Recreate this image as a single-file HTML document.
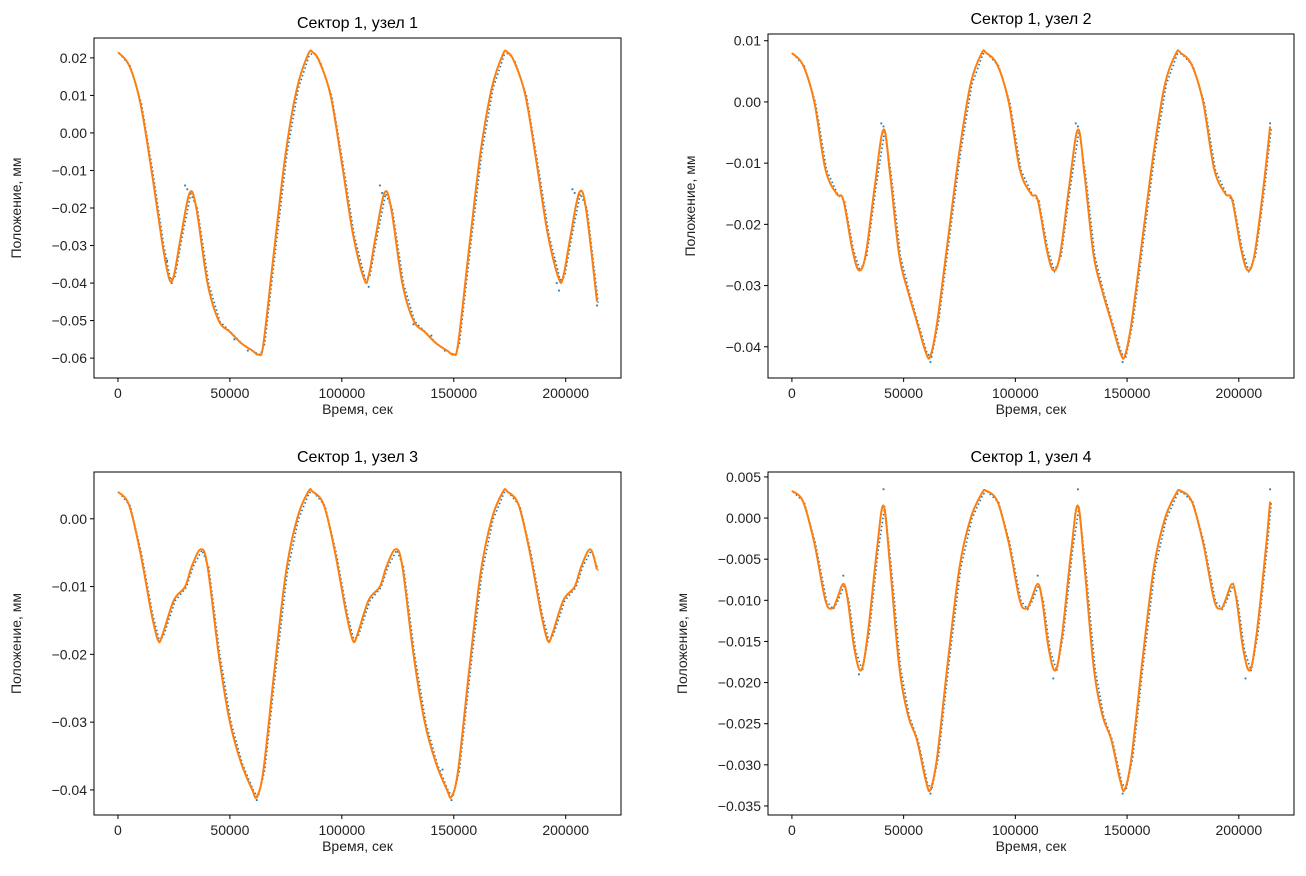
<!DOCTYPE html>
<html><head><meta charset="utf-8">
<style>
html,body{margin:0;padding:0;background:#fff;}
svg{display:block;font-family:"Liberation Sans","DejaVu Sans",sans-serif;}
</style></head>
<body>
<svg id="fig" width="1306" height="876" viewBox="0 0 1306 876" xmlns="http://www.w3.org/2000/svg"></svg>
<script>
// x ticks (shared)
const xTicks = [0, 50000, 100000, 150000, 200000];
const xTickLabels = ["0", "50000", "100000", "150000", "200000"];

// Panel 1
const t1 = [0,5,10,15,20,23,25,28,32,35,40,45,50,55,60,63,65,70,75,80,85,87,90,95,100,105,110,112,115,119,122,127,132,137,142,147,150,152,157,162,167,172,174,177,182,187,192,197,199,202,206,209,214];
const v1 = [0.0215,0.018,0.008,-0.010,-0.030,-0.039,-0.038,-0.028,-0.016,-0.020,-0.040,-0.050,-0.053,-0.056,-0.058,-0.059,-0.056,-0.030,-0.005,0.012,0.021,0.0215,0.019,0.010,-0.008,-0.027,-0.039,-0.038,-0.028,-0.016,-0.020,-0.040,-0.050,-0.053,-0.056,-0.058,-0.059,-0.056,-0.030,-0.005,0.012,0.021,0.0215,0.019,0.010,-0.008,-0.027,-0.039,-0.038,-0.028,-0.016,-0.020,-0.045];
const m1t = [22,23,24,30,31,45,52,58,62,110,111,112,117,118,132,140,146,195,196,197,203,204,214];
const m1v = [-0.034,-0.039,-0.040,-0.014,-0.015,-0.050,-0.055,-0.058,-0.059,-0.038,-0.040,-0.041,-0.014,-0.016,-0.051,-0.054,-0.058,-0.034,-0.040,-0.042,-0.015,-0.016,-0.046];
const y1Ticks = [0.02,0.01,0.00,-0.01,-0.02,-0.03,-0.04,-0.05,-0.06];
const y1Labels = ["0.02","0.01","0.00","−0.01","−0.02","−0.03","−0.04","−0.05","−0.06"];

// Panel 2
const t2 = [0,5,10,15,20,23,27,30,33,37,41,44,48,52,56,60,62,65,70,75,80,85,87,92,97,102,107,110,114,117,120,124,128,131,135,139,143,147,149,152,157,162,167,172,174,179,184,189,194,197,201,204,207,211,214];
const v2 = [0.008,0.006,0.0,-0.011,-0.015,-0.016,-0.024,-0.0275,-0.025,-0.014,-0.0045,-0.012,-0.025,-0.031,-0.036,-0.041,-0.0415,-0.036,-0.022,-0.008,0.003,0.008,0.008,0.006,0.0,-0.011,-0.015,-0.016,-0.024,-0.0275,-0.025,-0.014,-0.0045,-0.012,-0.025,-0.031,-0.036,-0.041,-0.0415,-0.036,-0.022,-0.008,0.003,0.008,0.008,0.006,0.0,-0.011,-0.015,-0.016,-0.024,-0.0275,-0.025,-0.014,-0.004];
const m2t = [40,41,62,127,128,148,214];
const m2v = [-0.0035,-0.004,-0.0425,-0.0035,-0.004,-0.0425,-0.0035];
const y2Ticks = [0.01,0.00,-0.01,-0.02,-0.03,-0.04];
const y2Labels = ["0.01","0.00","−0.01","−0.02","−0.03","−0.04"];

// Panel 3
const t3 = [0,5,10,15,18,20,25,30,33,37,40,45,50,55,60,62,65,70,75,80,85,87,92,97,102,105,107,112,117,120,124,127,132,137,142,147,149,152,157,162,167,172,174,179,184,189,192,194,199,204,207,211,214];
const v3 = [0.004,0.002,-0.005,-0.014,-0.018,-0.017,-0.012,-0.010,-0.007,-0.0045,-0.007,-0.020,-0.030,-0.036,-0.040,-0.041,-0.037,-0.022,-0.008,0.0,0.004,0.004,0.002,-0.005,-0.014,-0.018,-0.017,-0.012,-0.010,-0.007,-0.0045,-0.007,-0.020,-0.030,-0.036,-0.040,-0.041,-0.037,-0.022,-0.008,0.0,0.004,0.004,0.002,-0.005,-0.014,-0.018,-0.017,-0.012,-0.010,-0.007,-0.0045,-0.0075];
const m3t = [62,145,149];
const m3v = [-0.0415,-0.037,-0.0415];
const y3Ticks = [0.00,-0.01,-0.02,-0.03,-0.04];
const y3Labels = ["0.00","−0.01","−0.02","−0.03","−0.04"];

// Panel 4
const t4 = [0,5,10,15,18,20,23,25,28,31,34,38,41,44,48,52,56,60,62,65,70,75,80,85,87,92,97,102,105,107,110,112,115,118,121,125,128,131,135,139,143,147,149,152,157,162,167,172,174,179,184,189,192,194,197,199,202,205,208,212,214];
const v4 = [0.0033,0.002,-0.003,-0.010,-0.011,-0.010,-0.008,-0.010,-0.016,-0.0185,-0.014,-0.004,0.0015,-0.006,-0.018,-0.024,-0.027,-0.032,-0.033,-0.029,-0.017,-0.006,0.0,0.003,0.0033,0.002,-0.003,-0.010,-0.011,-0.010,-0.008,-0.010,-0.016,-0.0185,-0.014,-0.004,0.0015,-0.006,-0.018,-0.024,-0.027,-0.032,-0.033,-0.029,-0.017,-0.006,0.0,0.003,0.0033,0.002,-0.003,-0.010,-0.011,-0.010,-0.008,-0.010,-0.016,-0.0185,-0.014,-0.004,0.002];
const m4t = [23,30,41,62,110,117,128,148,203,214];
const m4v = [-0.007,-0.019,0.0035,-0.0335,-0.007,-0.0195,0.0035,-0.0335,-0.0195,0.0035];
const y4Ticks = [0.005,0.000,-0.005,-0.010,-0.015,-0.020,-0.025,-0.030,-0.035];
const y4Labels = ["0.005","0.000","−0.005","−0.010","−0.015","−0.020","−0.025","−0.030","−0.035"];

const NS = "http://www.w3.org/2000/svg";
const fig = document.getElementById('fig');
function mk(tag, attrs, parent, text){
  const e = document.createElementNS(NS, tag);
  for (const k in attrs) e.setAttribute(k, attrs[k]);
  if (text !== undefined) e.textContent = text;
  (parent||fig).appendChild(e);
  return e;
}

function panel(cfg){
  const g = mk('g', {});
  
  
  const L=cfg.L, R=cfg.R, T=cfg.T, B=cfg.B;
  const xmin=-10700, xmax=224700;
  const sx = v => L + (v - xmin)/(xmax - xmin)*(R - L);
  const sy = v => T + (cfg.ymax - v)/(cfg.ymax - cfg.ymin)*(B - T);

  const tt = mk('text', {x:(L+R)/2, y:T-10, 'text-anchor':'middle', 'font-size':'16', fill:'#000'}, g, cfg.title);
  
  

  xTicks.forEach((v,i)=>{
    const x = sx(v);
    mk('line', {x1:x, x2:x, y1:B, y2:B+4, stroke:'#000', 'stroke-width':1}, g);
    const t = mk('text', {x:x, y:B+20, 'text-anchor':'middle', 'font-size':'14', fill:'#222'}, g, xTickLabels[i]);
    
    
  });
  cfg.yTicks.forEach((v,i)=>{
    const y = sy(v);
    mk('line', {x1:L-4, x2:L, y1:y, y2:y, stroke:'#000', 'stroke-width':1}, g);
    const t = mk('text', {x:L-7, y:y+5, 'text-anchor':'end', 'font-size':'14', fill:'#222'}, g, cfg.yLabels[i]);
    
    
  });
  const xl = mk('text', {x:(L+R)/2, y:B+36, 'text-anchor':'middle', 'font-size':'14', fill:'#222'}, g, 'Время, сек');
  
  
  const yx = cfg.ylx, yy=(T+B)/2;
  const yl = mk('text', {x:yx, y:yy, 'text-anchor':'middle', 'font-size':'14', fill:'#222', transform:`rotate(-90 ${yx} ${yy})`}, g, 'Положение, мм');
  
  

  const pts = cfg.t.map((t,i)=>[sx(t*1000), sy(cfg.v[i])]);
  let dAll = 'M'+pts.map(p=>p[0].toFixed(1)+','+p[1].toFixed(1)).join(' L');
  const blue = mk('path', {d:dAll, fill:'none', stroke:'#1f77b4', 'stroke-width':1.6, 'stroke-dasharray':'1.5 2.5', transform:'translate(1.2,0.8)'}, g);
  
  
  cfg.mt.forEach((t,i)=>{
    const c = mk('rect', {x:sx(t*1000)-0.9, y:sy(cfg.mv[i])-0.9, width:1.8, height:1.8, fill:'#1f77b4'}, g);
    
    
  });

  let d = 'M'+pts[0][0].toFixed(1)+','+pts[0][1].toFixed(1);
  for (let i=0;i<pts.length-1;i++){
    const p0=pts[Math.max(0,i-1)], p1=pts[i], p2=pts[i+1], p3=pts[Math.min(pts.length-1,i+2)];
    const c1=[p1[0]+(p2[0]-p0[0])/6, p1[1]+(p2[1]-p0[1])/6];
    const c2=[p2[0]-(p3[0]-p1[0])/6, p2[1]-(p3[1]-p1[1])/6];
    d += ` C${c1[0].toFixed(1)},${c1[1].toFixed(1)} ${c2[0].toFixed(1)},${c2[1].toFixed(1)} ${p2[0].toFixed(1)},${p2[1].toFixed(1)}`;
  }
  const or = mk('path', {d:d, fill:'none', stroke:'#ff7f0e', 'stroke-width':2}, g);
  
  

  const fr = mk('rect', {x:L, y:T, width:R-L, height:B-T, fill:'none', stroke:'#000', 'stroke-width':1}, g);
  
  
}

panel({name:'panel-node-1', title:'Сектор 1, узел 1', L:94, R:621, T:38, B:378, ymax:0.0253, ymin:-0.0653, yTicks:y1Ticks, yLabels:y1Labels, t:t1, v:v1, mt:m1t, mv:m1v, ylx:21});
panel({name:'panel-node-2', title:'Сектор 1, узел 2', L:768, R:1294, T:34, B:378, ymax:0.0111, ymin:-0.0451, yTicks:y2Ticks, yLabels:y2Labels, t:t2, v:v2, mt:m2t, mv:m2v, ylx:695});
panel({name:'panel-node-3', title:'Сектор 1, узел 3', L:94, R:621, T:472, B:815, ymax:0.0069, ymin:-0.0437, yTicks:y3Ticks, yLabels:y3Labels, t:t3, v:v3, mt:m3t, mv:m3v, ylx:21});
panel({name:'panel-node-4', title:'Сектор 1, узел 4', L:768, R:1294, T:472, B:815, ymax:0.0056, ymin:-0.0361, yTicks:y4Ticks, yLabels:y4Labels, t:t4, v:v4, mt:m4t, mv:m4v, ylx:687});
</script>
</body></html>
